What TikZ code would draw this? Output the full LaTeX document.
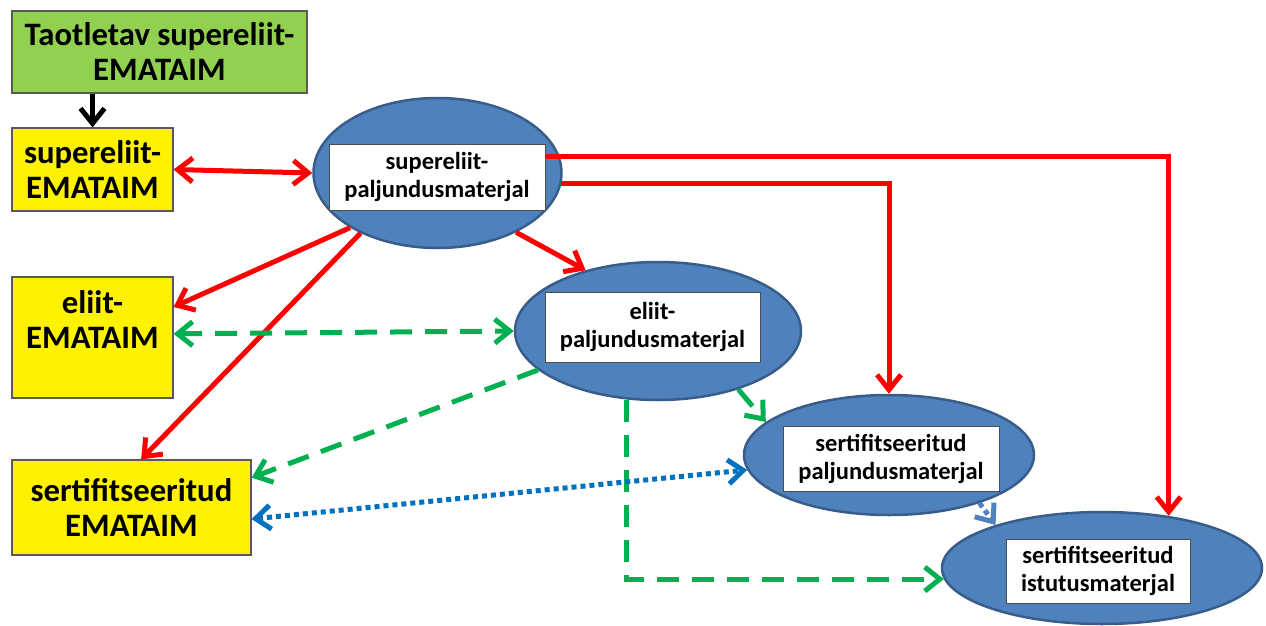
\documentclass[tikz,border=0pt]{standalone}
\usepackage{fontspec}
\setmainfont{Carlito}
\usetikzlibrary{arrows.meta,calc,shapes.geometric}

\definecolor{leafgreen}{HTML}{92D050}
\definecolor{blobfill}{HTML}{4F81BD}
\definecolor{blobline}{HTML}{385D8A}
\definecolor{dashgreen}{HTML}{00B050}
\definecolor{dotblue}{HTML}{0070C0}

\begin{document}
\begin{tikzpicture}[
  x=1pt,y=-1pt,
  >={Straight Barb[length=15pt,width=24pt]},
  bigtext/.style={font=\fontsize{32.7}{35}\selectfont\bfseries},
  smalltext/.style={font=\fontsize{24.5}{28}\selectfont\bfseries},
  greenbox/.style={draw=black!65, line width=1.2pt, fill=leafgreen, align=center, inner sep=0pt, bigtext},
  yellowbox/.style={draw=black!65, line width=1.2pt, fill=yellow, align=center, inner sep=0pt, bigtext},
  blob/.style={ellipse, draw=blobline, line width=2.5pt, fill=blobfill, inner sep=0pt},
  tag/.style={draw=black!70, line width=1pt, fill=white, align=center, inner sep=0pt, smalltext},
  blackarr/.style={->, draw=black, line width=5pt},
  redarr/.style={->, draw=red, line width=5pt},
  greenarr/.style={->, draw=dashgreen, line width=5pt, dash pattern=on 22pt off 13pt},
  bluearr/.style={->, draw=dotblue, line width=5pt, dash pattern=on 5pt off 4pt},
  paleblue/.style={->, draw=blobfill, line width=5pt, dash pattern=on 5pt off 4pt}
]
\path[use as bounding box] (0,0) rectangle (1266,626);

% Left column
\node[greenbox, minimum width=295pt, minimum height=82pt] (apply) at (159.5,52)
  {Taotletav supereliit-\\EMATAIM};
\node[yellowbox, minimum width=161pt, minimum height=83pt] (superm) at (92.5,169.5)
  {supereliit-\\EMATAIM};
\node[yellowbox, minimum width=161pt, minimum height=121pt] (elitem) at (92.5,337.5)
  {eliit-\\EMATAIM\\~};
\node[yellowbox, minimum width=239pt, minimum height=95pt] (certm) at (131.5,507.5)
  {sertifitseeritud\\EMATAIM};

% Ellipses with their labels
\node[blob, minimum width=248pt, minimum height=150pt] (superp) at (437.5,173) {};
\node[tag, minimum width=216pt, minimum height=66pt] (supert) at (437,177)
  {supereliit-\\paljundusmaterjal};

\node[blob, minimum width=286pt, minimum height=138pt] (elitep) at (658,331) {};
\node[tag, minimum width=215pt, minimum height=70pt] (elitet) at (652.5,327)
  {eliit-\\paljundusmaterjal};

\node[blob, minimum width=290pt, minimum height=120pt] (certp) at (889,455) {};
\node[tag, minimum width=216pt, minimum height=65pt] (certt) at (891,458.5)
  {sertifitseeritud\\paljundusmaterjal};

\node[blob, minimum width=320pt, minimum height=112pt] (plant) at (1102,568) {};
\node[tag, minimum width=184pt, minimum height=64pt] (plantt) at (1098,571)
  {sertifitseeritud\\istutusmaterjal};

% Black arrow
\draw[blackarr] (apply.south -| superm.north) -- (superm.north);

% Red arrows
\draw[redarr, <->] (superm.east) -- (superp.west);
\draw[redarr] (superp.-37) -- (elitep.140);
\draw[redarr] (superp.212) -- ($(elitem.north east)!0.25!(elitem.south east)$);
\draw[redarr] (superp.218) -- ($(certm.north west)!0.54!(certm.north east)$);
\draw[redarr] ($(supert.north east)+(0,13)$) -| (plant.38);
\draw[redarr] (superp.-5.6) -| (certp.north);

% Green dashed arrows
\draw[greenarr, <->] ($(elitem.north east)!0.47!(elitem.south east)$) -- (elitep.west);
\draw[greenarr] (elitep.198) -- ($(certm.north east)!0.19!(certm.south east)$);
\draw[greenarr] (elitep.-36.5) -- (certp.165);
\draw[greenarr] (elitep.245) |- (plant.184);

% Blue dotted arrows
\draw[bluearr, <->] ($(certm.north east)!0.62!(certm.south east)$) -- (certp.186);
\draw[paleblue] (certp.-28) -- (plant.158);

\end{tikzpicture}
\end{document}
